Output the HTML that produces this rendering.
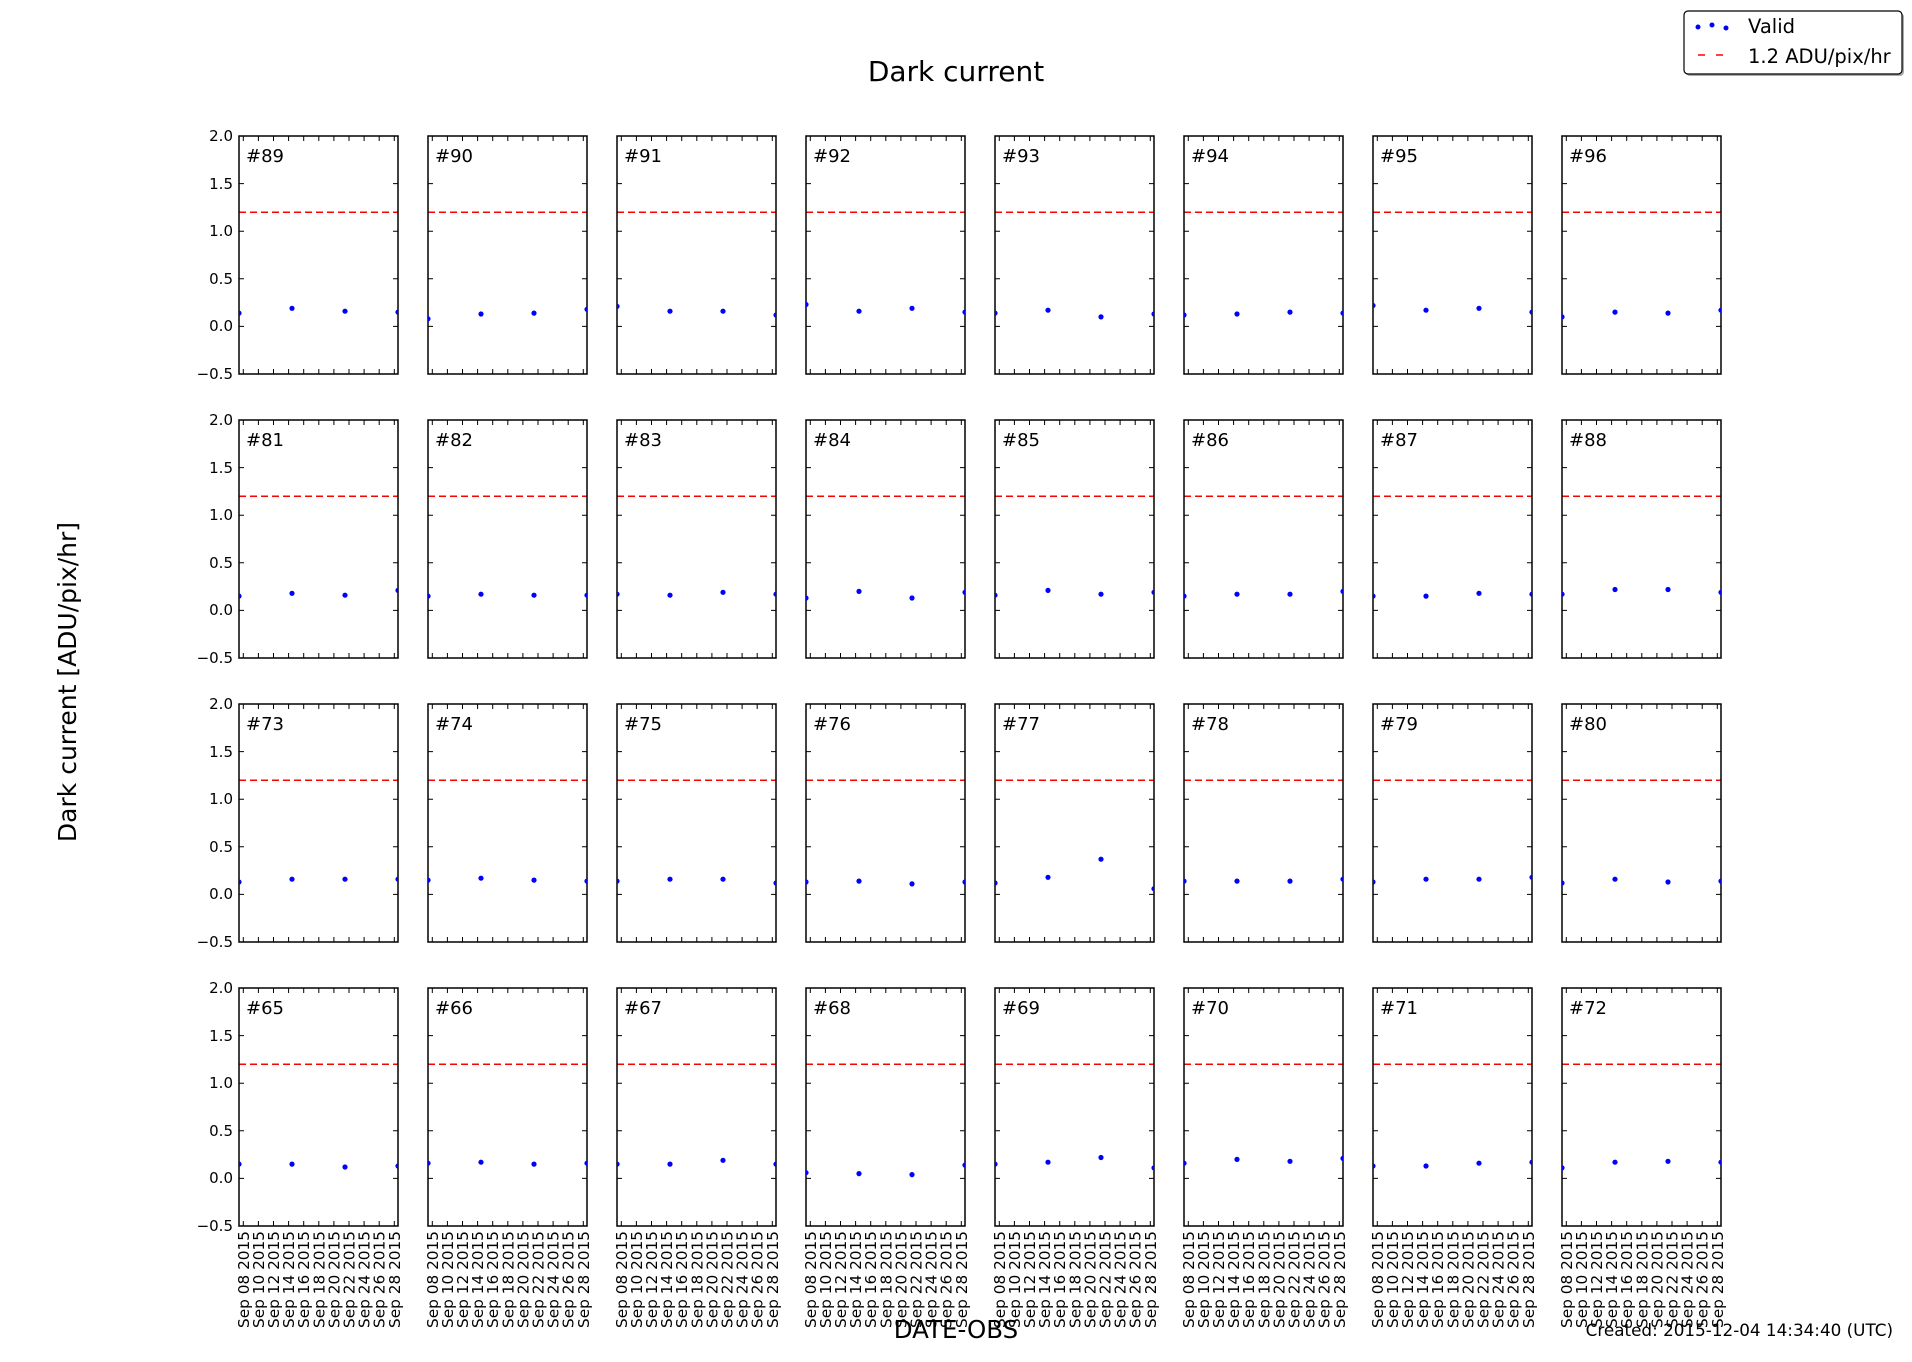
<!DOCTYPE html>
<html><head><meta charset="utf-8"><style>
html,body{margin:0;padding:0;background:#fff;}
svg{display:block;font-family:"DejaVu Sans","Liberation Sans",sans-serif;}
.p{font-size:18px;}
.yt{font-size:15px;text-anchor:end;}
.xt text{font-size:15.3px;text-anchor:end;}
circle{fill:#0000ff;}
</style></head><body>
<svg width="1912" height="1362" viewBox="0 0 1912 1362" xmlns="http://www.w3.org/2000/svg">
<defs>
<clipPath id="c" clipPathUnits="userSpaceOnUse"><rect x="0" y="0" width="159" height="238"/></clipPath>
<g id="f">
<line x1="0" y1="76.2" x2="159" y2="76.2" stroke="#ff0000" stroke-width="1.5" stroke-dasharray="7,4"/>
<path d="M0 47.6h5M0 95.2h5M0 142.8h5M0 190.4h5M154 47.6h5M154 95.2h5M154 142.8h5M154 190.4h5
M4.3 238v-5M19.4 238v-5M34.5 238v-5M49.6 238v-5M64.7 238v-5M79.8 238v-5M94.9 238v-5M110 238v-5M125.1 238v-5M140.2 238v-5M155.3 238v-5
M4.3 0v5M19.4 0v5M34.5 0v5M49.6 0v5M64.7 0v5M79.8 0v5M94.9 0v5M110 0v5M125.1 0v5M140.2 0v5M155.3 0v5" stroke="#000" stroke-width="1" fill="none"/>
<rect x="0" y="0" width="159" height="238" fill="none" stroke="#000" stroke-width="1.5"/>
</g>
</defs>

<text x="956" y="81" font-size="28" text-anchor="middle">Dark current</text>
<text transform="translate(76,682) rotate(-90)" font-size="25" text-anchor="middle">Dark current [ADU/pix/hr]</text>
<text x="956" y="1338" font-size="24.5" text-anchor="middle">DATE-OBS</text>
<text x="1893" y="1336" font-size="16.8" text-anchor="end">Created: 2015-12-04 14:34:40 (UTC)</text>

<!-- legend -->
<rect x="1686" y="13" width="218" height="63" rx="4" fill="#555" opacity="0.5"/>
<rect x="1684" y="11" width="218" height="63" rx="4" fill="#fff" stroke="#000" stroke-width="1.2"/>
<circle cx="1698" cy="27" r="2.5"/><circle cx="1712" cy="25" r="2.5"/><circle cx="1726" cy="28" r="2.5"/>
<path d="M1698 55h7M1716 55h7" stroke="#ff0000" stroke-width="1.5"/>
<text x="1748" y="33" font-size="19.5">Valid</text>
<text x="1748" y="63" font-size="19.5">1.2 ADU/pix/hr</text>

<!-- y tick labels -->
<g class="yt">
<text x="233" y="141">2.0</text><text x="233" y="189">1.5</text><text x="233" y="236">1.0</text><text x="233" y="284">0.5</text><text x="233" y="331">0.0</text><text x="233" y="379">−0.5</text>
<text x="233" y="425">2.0</text><text x="233" y="473">1.5</text><text x="233" y="520">1.0</text><text x="233" y="568">0.5</text><text x="233" y="615">0.0</text><text x="233" y="663">−0.5</text>
<text x="233" y="709">2.0</text><text x="233" y="757">1.5</text><text x="233" y="804">1.0</text><text x="233" y="852">0.5</text><text x="233" y="899">0.0</text><text x="233" y="947">−0.5</text>
<text x="233" y="993">2.0</text><text x="233" y="1041">1.5</text><text x="233" y="1088">1.0</text><text x="233" y="1136">0.5</text><text x="233" y="1183">0.0</text><text x="233" y="1231">−0.5</text>
</g>

<!-- Row 1 -->
<g transform="translate(239,136)"><use href="#f"/><text x="7" y="26" class="p">#89</text><g clip-path="url(#c)"><circle cx="0" cy="177.1" r="2.6"/><circle cx="53" cy="172.3" r="2.6"/><circle cx="106" cy="175.2" r="2.6"/><circle cx="159" cy="176.1" r="2.6"/></g></g>
<g transform="translate(428,136)"><use href="#f"/><text x="7" y="26" class="p">#90</text><g clip-path="url(#c)"><circle cx="0" cy="182.8" r="2.6"/><circle cx="53" cy="178.0" r="2.6"/><circle cx="106" cy="177.1" r="2.6"/><circle cx="159" cy="173.3" r="2.6"/></g></g>
<g transform="translate(617,136)"><use href="#f"/><text x="7" y="26" class="p">#91</text><g clip-path="url(#c)"><circle cx="0" cy="170.4" r="2.6"/><circle cx="53" cy="175.2" r="2.6"/><circle cx="106" cy="175.2" r="2.6"/><circle cx="159" cy="179.0" r="2.6"/></g></g>
<g transform="translate(806,136)"><use href="#f"/><text x="7" y="26" class="p">#92</text><g clip-path="url(#c)"><circle cx="0" cy="168.5" r="2.6"/><circle cx="53" cy="175.2" r="2.6"/><circle cx="106" cy="172.3" r="2.6"/><circle cx="159" cy="176.1" r="2.6"/></g></g>
<g transform="translate(995,136)"><use href="#f"/><text x="7" y="26" class="p">#93</text><g clip-path="url(#c)"><circle cx="0" cy="177.1" r="2.6"/><circle cx="53" cy="174.2" r="2.6"/><circle cx="106" cy="180.9" r="2.6"/><circle cx="159" cy="178.0" r="2.6"/></g></g>
<g transform="translate(1184,136)"><use href="#f"/><text x="7" y="26" class="p">#94</text><g clip-path="url(#c)"><circle cx="0" cy="179.0" r="2.6"/><circle cx="53" cy="178.0" r="2.6"/><circle cx="106" cy="176.1" r="2.6"/><circle cx="159" cy="177.1" r="2.6"/></g></g>
<g transform="translate(1373,136)"><use href="#f"/><text x="7" y="26" class="p">#95</text><g clip-path="url(#c)"><circle cx="0" cy="169.5" r="2.6"/><circle cx="53" cy="174.2" r="2.6"/><circle cx="106" cy="172.3" r="2.6"/><circle cx="159" cy="176.1" r="2.6"/></g></g>
<g transform="translate(1562,136)"><use href="#f"/><text x="7" y="26" class="p">#96</text><g clip-path="url(#c)"><circle cx="0" cy="180.9" r="2.6"/><circle cx="53" cy="176.1" r="2.6"/><circle cx="106" cy="177.1" r="2.6"/><circle cx="159" cy="174.2" r="2.6"/></g></g>

<!-- Row 2 -->
<g transform="translate(239,420)"><use href="#f"/><text x="7" y="26" class="p">#81</text><g clip-path="url(#c)"><circle cx="0" cy="176.1" r="2.6"/><circle cx="53" cy="173.3" r="2.6"/><circle cx="106" cy="175.2" r="2.6"/><circle cx="159" cy="170.4" r="2.6"/></g></g>
<g transform="translate(428,420)"><use href="#f"/><text x="7" y="26" class="p">#82</text><g clip-path="url(#c)"><circle cx="0" cy="176.1" r="2.6"/><circle cx="53" cy="174.2" r="2.6"/><circle cx="106" cy="175.2" r="2.6"/><circle cx="159" cy="175.2" r="2.6"/></g></g>
<g transform="translate(617,420)"><use href="#f"/><text x="7" y="26" class="p">#83</text><g clip-path="url(#c)"><circle cx="0" cy="174.2" r="2.6"/><circle cx="53" cy="175.2" r="2.6"/><circle cx="106" cy="172.3" r="2.6"/><circle cx="159" cy="174.2" r="2.6"/></g></g>
<g transform="translate(806,420)"><use href="#f"/><text x="7" y="26" class="p">#84</text><g clip-path="url(#c)"><circle cx="0" cy="178.0" r="2.6"/><circle cx="53" cy="171.4" r="2.6"/><circle cx="106" cy="178.0" r="2.6"/><circle cx="159" cy="172.3" r="2.6"/></g></g>
<g transform="translate(995,420)"><use href="#f"/><text x="7" y="26" class="p">#85</text><g clip-path="url(#c)"><circle cx="0" cy="175.2" r="2.6"/><circle cx="53" cy="170.4" r="2.6"/><circle cx="106" cy="174.2" r="2.6"/><circle cx="159" cy="172.3" r="2.6"/></g></g>
<g transform="translate(1184,420)"><use href="#f"/><text x="7" y="26" class="p">#86</text><g clip-path="url(#c)"><circle cx="0" cy="176.1" r="2.6"/><circle cx="53" cy="174.2" r="2.6"/><circle cx="106" cy="174.2" r="2.6"/><circle cx="159" cy="171.4" r="2.6"/></g></g>
<g transform="translate(1373,420)"><use href="#f"/><text x="7" y="26" class="p">#87</text><g clip-path="url(#c)"><circle cx="0" cy="176.1" r="2.6"/><circle cx="53" cy="176.1" r="2.6"/><circle cx="106" cy="173.3" r="2.6"/><circle cx="159" cy="174.2" r="2.6"/></g></g>
<g transform="translate(1562,420)"><use href="#f"/><text x="7" y="26" class="p">#88</text><g clip-path="url(#c)"><circle cx="0" cy="174.2" r="2.6"/><circle cx="53" cy="169.5" r="2.6"/><circle cx="106" cy="169.5" r="2.6"/><circle cx="159" cy="172.3" r="2.6"/></g></g>

<!-- Row 3 -->
<g transform="translate(239,704)"><use href="#f"/><text x="7" y="26" class="p">#73</text><g clip-path="url(#c)"><circle cx="0" cy="178.0" r="2.6"/><circle cx="53" cy="175.2" r="2.6"/><circle cx="106" cy="175.2" r="2.6"/><circle cx="159" cy="175.2" r="2.6"/></g></g>
<g transform="translate(428,704)"><use href="#f"/><text x="7" y="26" class="p">#74</text><g clip-path="url(#c)"><circle cx="0" cy="176.1" r="2.6"/><circle cx="53" cy="174.2" r="2.6"/><circle cx="106" cy="176.1" r="2.6"/><circle cx="159" cy="177.1" r="2.6"/></g></g>
<g transform="translate(617,704)"><use href="#f"/><text x="7" y="26" class="p">#75</text><g clip-path="url(#c)"><circle cx="0" cy="177.1" r="2.6"/><circle cx="53" cy="175.2" r="2.6"/><circle cx="106" cy="175.2" r="2.6"/><circle cx="159" cy="179.0" r="2.6"/></g></g>
<g transform="translate(806,704)"><use href="#f"/><text x="7" y="26" class="p">#76</text><g clip-path="url(#c)"><circle cx="0" cy="178.0" r="2.6"/><circle cx="53" cy="177.1" r="2.6"/><circle cx="106" cy="179.9" r="2.6"/><circle cx="159" cy="178.0" r="2.6"/></g></g>
<g transform="translate(995,704)"><use href="#f"/><text x="7" y="26" class="p">#77</text><g clip-path="url(#c)"><circle cx="0" cy="179.0" r="2.6"/><circle cx="53" cy="173.3" r="2.6"/><circle cx="106" cy="155.2" r="2.6"/><circle cx="159" cy="184.7" r="2.6"/></g></g>
<g transform="translate(1184,704)"><use href="#f"/><text x="7" y="26" class="p">#78</text><g clip-path="url(#c)"><circle cx="0" cy="177.1" r="2.6"/><circle cx="53" cy="177.1" r="2.6"/><circle cx="106" cy="177.1" r="2.6"/><circle cx="159" cy="175.2" r="2.6"/></g></g>
<g transform="translate(1373,704)"><use href="#f"/><text x="7" y="26" class="p">#79</text><g clip-path="url(#c)"><circle cx="0" cy="178.0" r="2.6"/><circle cx="53" cy="175.2" r="2.6"/><circle cx="106" cy="175.2" r="2.6"/><circle cx="159" cy="173.3" r="2.6"/></g></g>
<g transform="translate(1562,704)"><use href="#f"/><text x="7" y="26" class="p">#80</text><g clip-path="url(#c)"><circle cx="0" cy="179.0" r="2.6"/><circle cx="53" cy="175.2" r="2.6"/><circle cx="106" cy="178.0" r="2.6"/><circle cx="159" cy="177.1" r="2.6"/></g></g>

<!-- Row 4 -->
<g transform="translate(239,988)"><use href="#f"/><text x="7" y="26" class="p">#65</text><g clip-path="url(#c)"><circle cx="0" cy="176.1" r="2.6"/><circle cx="53" cy="176.1" r="2.6"/><circle cx="106" cy="179.0" r="2.6"/><circle cx="159" cy="178.0" r="2.6"/></g></g>
<g transform="translate(428,988)"><use href="#f"/><text x="7" y="26" class="p">#66</text><g clip-path="url(#c)"><circle cx="0" cy="175.2" r="2.6"/><circle cx="53" cy="174.2" r="2.6"/><circle cx="106" cy="176.1" r="2.6"/><circle cx="159" cy="175.2" r="2.6"/></g></g>
<g transform="translate(617,988)"><use href="#f"/><text x="7" y="26" class="p">#67</text><g clip-path="url(#c)"><circle cx="0" cy="176.1" r="2.6"/><circle cx="53" cy="176.1" r="2.6"/><circle cx="106" cy="172.3" r="2.6"/><circle cx="159" cy="176.1" r="2.6"/></g></g>
<g transform="translate(806,988)"><use href="#f"/><text x="7" y="26" class="p">#68</text><g clip-path="url(#c)"><circle cx="0" cy="184.7" r="2.6"/><circle cx="53" cy="185.6" r="2.6"/><circle cx="106" cy="186.6" r="2.6"/><circle cx="159" cy="177.1" r="2.6"/></g></g>
<g transform="translate(995,988)"><use href="#f"/><text x="7" y="26" class="p">#69</text><g clip-path="url(#c)"><circle cx="0" cy="176.1" r="2.6"/><circle cx="53" cy="174.2" r="2.6"/><circle cx="106" cy="169.5" r="2.6"/><circle cx="159" cy="179.9" r="2.6"/></g></g>
<g transform="translate(1184,988)"><use href="#f"/><text x="7" y="26" class="p">#70</text><g clip-path="url(#c)"><circle cx="0" cy="175.2" r="2.6"/><circle cx="53" cy="171.4" r="2.6"/><circle cx="106" cy="173.3" r="2.6"/><circle cx="159" cy="170.4" r="2.6"/></g></g>
<g transform="translate(1373,988)"><use href="#f"/><text x="7" y="26" class="p">#71</text><g clip-path="url(#c)"><circle cx="0" cy="178.0" r="2.6"/><circle cx="53" cy="178.0" r="2.6"/><circle cx="106" cy="175.2" r="2.6"/><circle cx="159" cy="174.2" r="2.6"/></g></g>
<g transform="translate(1562,988)"><use href="#f"/><text x="7" y="26" class="p">#72</text><g clip-path="url(#c)"><circle cx="0" cy="179.9" r="2.6"/><circle cx="53" cy="174.2" r="2.6"/><circle cx="106" cy="173.3" r="2.6"/><circle cx="159" cy="174.2" r="2.6"/></g></g>

<!-- x tick labels -->
<g class="xt" transform="translate(239,1231)">
<text transform="translate(4.3,0) rotate(-90)" dy="0.36em">Sep 08 2015</text><text transform="translate(19.4,0) rotate(-90)" dy="0.36em">Sep 10 2015</text><text transform="translate(34.5,0) rotate(-90)" dy="0.36em">Sep 12 2015</text><text transform="translate(49.6,0) rotate(-90)" dy="0.36em">Sep 14 2015</text><text transform="translate(64.7,0) rotate(-90)" dy="0.36em">Sep 16 2015</text><text transform="translate(79.8,0) rotate(-90)" dy="0.36em">Sep 18 2015</text><text transform="translate(94.9,0) rotate(-90)" dy="0.36em">Sep 20 2015</text><text transform="translate(110,0) rotate(-90)" dy="0.36em">Sep 22 2015</text><text transform="translate(125.1,0) rotate(-90)" dy="0.36em">Sep 24 2015</text><text transform="translate(140.2,0) rotate(-90)" dy="0.36em">Sep 26 2015</text><text transform="translate(155.3,0) rotate(-90)" dy="0.36em">Sep 28 2015</text>
</g>
<g class="xt" transform="translate(428,1231)">
<text transform="translate(4.3,0) rotate(-90)" dy="0.36em">Sep 08 2015</text><text transform="translate(19.4,0) rotate(-90)" dy="0.36em">Sep 10 2015</text><text transform="translate(34.5,0) rotate(-90)" dy="0.36em">Sep 12 2015</text><text transform="translate(49.6,0) rotate(-90)" dy="0.36em">Sep 14 2015</text><text transform="translate(64.7,0) rotate(-90)" dy="0.36em">Sep 16 2015</text><text transform="translate(79.8,0) rotate(-90)" dy="0.36em">Sep 18 2015</text><text transform="translate(94.9,0) rotate(-90)" dy="0.36em">Sep 20 2015</text><text transform="translate(110,0) rotate(-90)" dy="0.36em">Sep 22 2015</text><text transform="translate(125.1,0) rotate(-90)" dy="0.36em">Sep 24 2015</text><text transform="translate(140.2,0) rotate(-90)" dy="0.36em">Sep 26 2015</text><text transform="translate(155.3,0) rotate(-90)" dy="0.36em">Sep 28 2015</text>
</g>
<g class="xt" transform="translate(617,1231)">
<text transform="translate(4.3,0) rotate(-90)" dy="0.36em">Sep 08 2015</text><text transform="translate(19.4,0) rotate(-90)" dy="0.36em">Sep 10 2015</text><text transform="translate(34.5,0) rotate(-90)" dy="0.36em">Sep 12 2015</text><text transform="translate(49.6,0) rotate(-90)" dy="0.36em">Sep 14 2015</text><text transform="translate(64.7,0) rotate(-90)" dy="0.36em">Sep 16 2015</text><text transform="translate(79.8,0) rotate(-90)" dy="0.36em">Sep 18 2015</text><text transform="translate(94.9,0) rotate(-90)" dy="0.36em">Sep 20 2015</text><text transform="translate(110,0) rotate(-90)" dy="0.36em">Sep 22 2015</text><text transform="translate(125.1,0) rotate(-90)" dy="0.36em">Sep 24 2015</text><text transform="translate(140.2,0) rotate(-90)" dy="0.36em">Sep 26 2015</text><text transform="translate(155.3,0) rotate(-90)" dy="0.36em">Sep 28 2015</text>
</g>
<g class="xt" transform="translate(806,1231)">
<text transform="translate(4.3,0) rotate(-90)" dy="0.36em">Sep 08 2015</text><text transform="translate(19.4,0) rotate(-90)" dy="0.36em">Sep 10 2015</text><text transform="translate(34.5,0) rotate(-90)" dy="0.36em">Sep 12 2015</text><text transform="translate(49.6,0) rotate(-90)" dy="0.36em">Sep 14 2015</text><text transform="translate(64.7,0) rotate(-90)" dy="0.36em">Sep 16 2015</text><text transform="translate(79.8,0) rotate(-90)" dy="0.36em">Sep 18 2015</text><text transform="translate(94.9,0) rotate(-90)" dy="0.36em">Sep 20 2015</text><text transform="translate(110,0) rotate(-90)" dy="0.36em">Sep 22 2015</text><text transform="translate(125.1,0) rotate(-90)" dy="0.36em">Sep 24 2015</text><text transform="translate(140.2,0) rotate(-90)" dy="0.36em">Sep 26 2015</text><text transform="translate(155.3,0) rotate(-90)" dy="0.36em">Sep 28 2015</text>
</g>
<g class="xt" transform="translate(995,1231)">
<text transform="translate(4.3,0) rotate(-90)" dy="0.36em">Sep 08 2015</text><text transform="translate(19.4,0) rotate(-90)" dy="0.36em">Sep 10 2015</text><text transform="translate(34.5,0) rotate(-90)" dy="0.36em">Sep 12 2015</text><text transform="translate(49.6,0) rotate(-90)" dy="0.36em">Sep 14 2015</text><text transform="translate(64.7,0) rotate(-90)" dy="0.36em">Sep 16 2015</text><text transform="translate(79.8,0) rotate(-90)" dy="0.36em">Sep 18 2015</text><text transform="translate(94.9,0) rotate(-90)" dy="0.36em">Sep 20 2015</text><text transform="translate(110,0) rotate(-90)" dy="0.36em">Sep 22 2015</text><text transform="translate(125.1,0) rotate(-90)" dy="0.36em">Sep 24 2015</text><text transform="translate(140.2,0) rotate(-90)" dy="0.36em">Sep 26 2015</text><text transform="translate(155.3,0) rotate(-90)" dy="0.36em">Sep 28 2015</text>
</g>
<g class="xt" transform="translate(1184,1231)">
<text transform="translate(4.3,0) rotate(-90)" dy="0.36em">Sep 08 2015</text><text transform="translate(19.4,0) rotate(-90)" dy="0.36em">Sep 10 2015</text><text transform="translate(34.5,0) rotate(-90)" dy="0.36em">Sep 12 2015</text><text transform="translate(49.6,0) rotate(-90)" dy="0.36em">Sep 14 2015</text><text transform="translate(64.7,0) rotate(-90)" dy="0.36em">Sep 16 2015</text><text transform="translate(79.8,0) rotate(-90)" dy="0.36em">Sep 18 2015</text><text transform="translate(94.9,0) rotate(-90)" dy="0.36em">Sep 20 2015</text><text transform="translate(110,0) rotate(-90)" dy="0.36em">Sep 22 2015</text><text transform="translate(125.1,0) rotate(-90)" dy="0.36em">Sep 24 2015</text><text transform="translate(140.2,0) rotate(-90)" dy="0.36em">Sep 26 2015</text><text transform="translate(155.3,0) rotate(-90)" dy="0.36em">Sep 28 2015</text>
</g>
<g class="xt" transform="translate(1373,1231)">
<text transform="translate(4.3,0) rotate(-90)" dy="0.36em">Sep 08 2015</text><text transform="translate(19.4,0) rotate(-90)" dy="0.36em">Sep 10 2015</text><text transform="translate(34.5,0) rotate(-90)" dy="0.36em">Sep 12 2015</text><text transform="translate(49.6,0) rotate(-90)" dy="0.36em">Sep 14 2015</text><text transform="translate(64.7,0) rotate(-90)" dy="0.36em">Sep 16 2015</text><text transform="translate(79.8,0) rotate(-90)" dy="0.36em">Sep 18 2015</text><text transform="translate(94.9,0) rotate(-90)" dy="0.36em">Sep 20 2015</text><text transform="translate(110,0) rotate(-90)" dy="0.36em">Sep 22 2015</text><text transform="translate(125.1,0) rotate(-90)" dy="0.36em">Sep 24 2015</text><text transform="translate(140.2,0) rotate(-90)" dy="0.36em">Sep 26 2015</text><text transform="translate(155.3,0) rotate(-90)" dy="0.36em">Sep 28 2015</text>
</g>
<g class="xt" transform="translate(1562,1231)">
<text transform="translate(4.3,0) rotate(-90)" dy="0.36em">Sep 08 2015</text><text transform="translate(19.4,0) rotate(-90)" dy="0.36em">Sep 10 2015</text><text transform="translate(34.5,0) rotate(-90)" dy="0.36em">Sep 12 2015</text><text transform="translate(49.6,0) rotate(-90)" dy="0.36em">Sep 14 2015</text><text transform="translate(64.7,0) rotate(-90)" dy="0.36em">Sep 16 2015</text><text transform="translate(79.8,0) rotate(-90)" dy="0.36em">Sep 18 2015</text><text transform="translate(94.9,0) rotate(-90)" dy="0.36em">Sep 20 2015</text><text transform="translate(110,0) rotate(-90)" dy="0.36em">Sep 22 2015</text><text transform="translate(125.1,0) rotate(-90)" dy="0.36em">Sep 24 2015</text><text transform="translate(140.2,0) rotate(-90)" dy="0.36em">Sep 26 2015</text><text transform="translate(155.3,0) rotate(-90)" dy="0.36em">Sep 28 2015</text>
</g>
</svg>
</body></html>
